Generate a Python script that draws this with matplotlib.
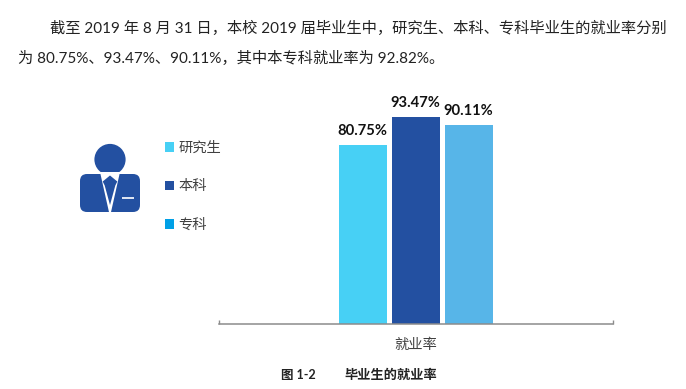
import matplotlib
matplotlib.use("Agg")
import matplotlib.pyplot as plt
from matplotlib.patches import Circle, FancyBboxPatch, Polygon, Rectangle, Patch

plt.rcParams['font.family'] = ['Lato', 'Noto Sans CJK SC', 'DejaVu Sans']

category = ['就业率']
series_names = ['研究生', '本科', '专科']
series_values = [80.75, 93.47, 90.11]
bar_colors = ['#47D0F5', '#2350A1', '#57B5E8']
legend_colors = ['#47D0F5', '#2350A1', '#00A0E6']
para_lines = ['截至 2019 年 8 月 31 日\uff0c本校 2019 届毕业生中\uff0c研究生、本科、专科毕业生的就业率分别',
              '为 80.75%、93.47%、90.11%\uff0c其中本专科就业率为 92.82%。']
caption_no = '图 1-2'
caption_title = '毕业生的就业率'

W, H = 686, 389
fig = plt.figure(figsize=(W / 100, H / 100), dpi=100, facecolor='white')
PX = 0.72  # points per pixel at dpi=100


def fx(x):
    return x / W


def fy(y):
    return 1 - y / H


# Chart axes: pixel box x 219..613, y 100..324
ax = fig.add_axes([fx(219), fy(324), (613 - 219) / W, (324 - 100) / H])
ax.set_xlim(-0.5, 0.5)
ax.set_ylim(0, 224 / 2.212)
bar_w = 0.122
step = 0.1345
for i, (v, c) in enumerate(zip(series_values, bar_colors)):
    xc = (i - 1) * step - 0.001
    ax.bar(xc, v, width=bar_w, color=c, linewidth=0)
    ax.annotate(f'{v:.2f}%', (xc, v), xytext=(0, 7), textcoords='offset pixels',
                ha='center', va='bottom', fontsize=14.7 * PX, fontweight='bold', color='#111111')
for s in ('left', 'right', 'top'):
    ax.spines[s].set_visible(False)
ax.spines['bottom'].set_color('#8C8C8C')
ax.spines['bottom'].set_linewidth(1.1)
ax.set_yticks([])
ax.set_xticks([-0.5, 0.5])
ax.set_xticklabels([])
ax.tick_params(axis='x', which='major', direction='in', length=3, width=1, color='#8C8C8C')
ax.set_xticks([0], minor=True)
ax.set_xticklabels(category, minor=True, fontsize=14.3 * PX, color='#404040')
ax.tick_params(axis='x', which='minor', length=0, pad=10)
ax.patch.set_visible(False)

# Legend
handles = [Patch(facecolor=c, edgecolor='none', label=n) for c, n in zip(legend_colors, series_names)]
fig.legend(handles=handles, loc='upper left', bbox_to_anchor=(fx(159), fy(135)), frameon=False,
           fontsize=14.3 * PX, labelcolor='#404040', handlelength=0.65, handleheight=0.65,
           handletextpad=0.3, labelspacing=1.78, borderpad=0.4, borderaxespad=0)

# Overlay in pixel coordinates for the icon and page text
ov = fig.add_axes([0, 0, 1, 1], zorder=-1)
ov.set_xlim(0, W)
ov.set_ylim(H, 0)
ov.axis('off')

blue = '#2350A1'
ov.add_patch(Circle((110, 159.5), 15.6, fc=blue, ec='none'))
ov.add_patch(FancyBboxPatch((85, 179), 50, 28, boxstyle='round,pad=5,rounding_size=7', fc=blue, ec='none'))
ov.add_patch(Polygon([(100, 172), (120, 172), (110.8, 213), (109.2, 213)], fc='white', ec='none'))
ov.add_patch(Polygon([(110, 175.5), (117.3, 181.5), (115.3, 185.5), (110, 205), (104.7, 185.5), (102.7, 181.5)],
                     fc=blue, ec='none'))
ov.add_patch(Rectangle((122, 197), 12, 2, fc='#DDE4F2', ec='none'))

ov.text(50, 28, para_lines[0], fontsize=15.3 * PX, color='#222222', va='center', ha='left')
ov.text(18, 58, para_lines[1], fontsize=15.3 * PX, color='#222222', va='center', ha='left')
ov.text(281, 375, caption_no, fontsize=12.5 * PX, color='#222222', fontweight='bold', va='center', ha='left')
ov.text(344, 375, caption_title, fontsize=13.2 * PX, color='#222222', fontweight='bold', va='center', ha='left')

fig.savefig('out.png', dpi=100)
